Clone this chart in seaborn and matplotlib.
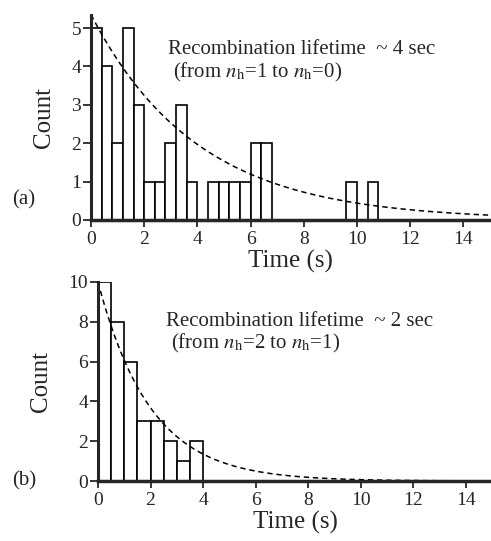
import numpy as np
import pandas as pd
import seaborn as sns
import matplotlib.pyplot as plt

# DATA
counts_a = [5, 4, 2, 5, 3, 1, 1, 2, 3, 1, 0, 1, 1, 1, 1, 2, 2,
            0, 0, 0, 0, 0, 0, 0, 1, 0, 1]
bin_width_a = 0.4
counts_b = [10, 8, 6, 3, 3, 2, 1, 2]
bin_width_b = 0.5

# exponential fits drawn as dashed curves (amplitude, lifetime in s)
fit_a = (5.35, 4.0)
fit_b = (10.0, 2.0)

label_a = ["Recombination lifetime  ~ 4 sec", r"(from $n_\mathrm{h}$=1 to $n_\mathrm{h}$=0)"]
label_b = ["Recombination lifetime  ~ 2 sec", r"(from $n_\mathrm{h}$=2 to $n_\mathrm{h}$=1)"]

# SETTING
sns.set_style("ticks")
plt.rcParams['font.family'] = ['Liberation Serif', 'DejaVu Serif']
plt.rcParams['mathtext.fontset'] = 'stix'

W, H = 491, 541


def fx(px):
    return px / W


def fy(py):
    return 1 - py / H


def hist_frame(counts, width):
    left = np.arange(len(counts)) * width
    return pd.DataFrame({"t": left + width / 2, "n": counts})


def draw_panel(ax, counts, width, fit, ylim, yticks):
    df = hist_frame(counts, width)
    sns.histplot(data=df, x="t", weights="n", binwidth=width,
                 binrange=(0, len(counts) * width), ax=ax,
                 color="white", edgecolor="black", linewidth=1.2, alpha=1)
    t = np.linspace(0, 15, 300)
    amp, tau = fit
    sns.lineplot(x=t, y=amp * np.exp(-t / tau), ax=ax, color="black",
                 linewidth=1.1, linestyle=(0, (3.5, 2.5)))
    ax.set_xlim(0, 15)
    ax.set_ylim(*ylim)
    ax.set_xticks(range(0, 15, 2))
    ax.set_yticks(yticks)
    ax.tick_params(axis="x", labelsize=14, length=5, width=1.3, pad=3)
    ax.tick_params(axis="y", labelsize=14, length=6, width=1.3, pad=1)
    sns.despine(ax=ax)
    ax.spines['bottom'].set_linewidth(2.5)
    ax.spines['left'].set_linewidth(2.2)
    ax.set_xlabel("Time (s)", fontsize=18, labelpad=1)
    ax.set_ylabel("Count", fontsize=18, labelpad=12)


fig = plt.figure(figsize=(W / 100, H / 100), dpi=100)
ax_a = fig.add_axes([fx(91), fy(220), fx(490) - fx(91), fy(14.6) - fy(220)])
ax_b = fig.add_axes([fx(98), fy(481), fx(492) - fx(98), fy(282) - fy(481)])

draw_panel(ax_a, counts_a, bin_width_a, fit_a, (0, 5.35), range(0, 6))
draw_panel(ax_b, counts_b, bin_width_b, fit_b, (0, 10), range(0, 11, 2))

# annotations
fig.text(fx(168), fy(49), label_a[0], fontsize=15, va="center")
fig.text(fx(173), fy(72), label_a[1], fontsize=15, va="center")
fig.text(fx(166), fy(322), label_b[0], fontsize=15, va="center")
fig.text(fx(171), fy(343), label_b[1], fontsize=15, va="center")
fig.text(fx(12), fy(200), "(a)", fontsize=15, va="center")
fig.text(fx(12), fy(481), "(b)", fontsize=15, va="center")

plt.savefig("out.png", dpi=100)
plt.close()
